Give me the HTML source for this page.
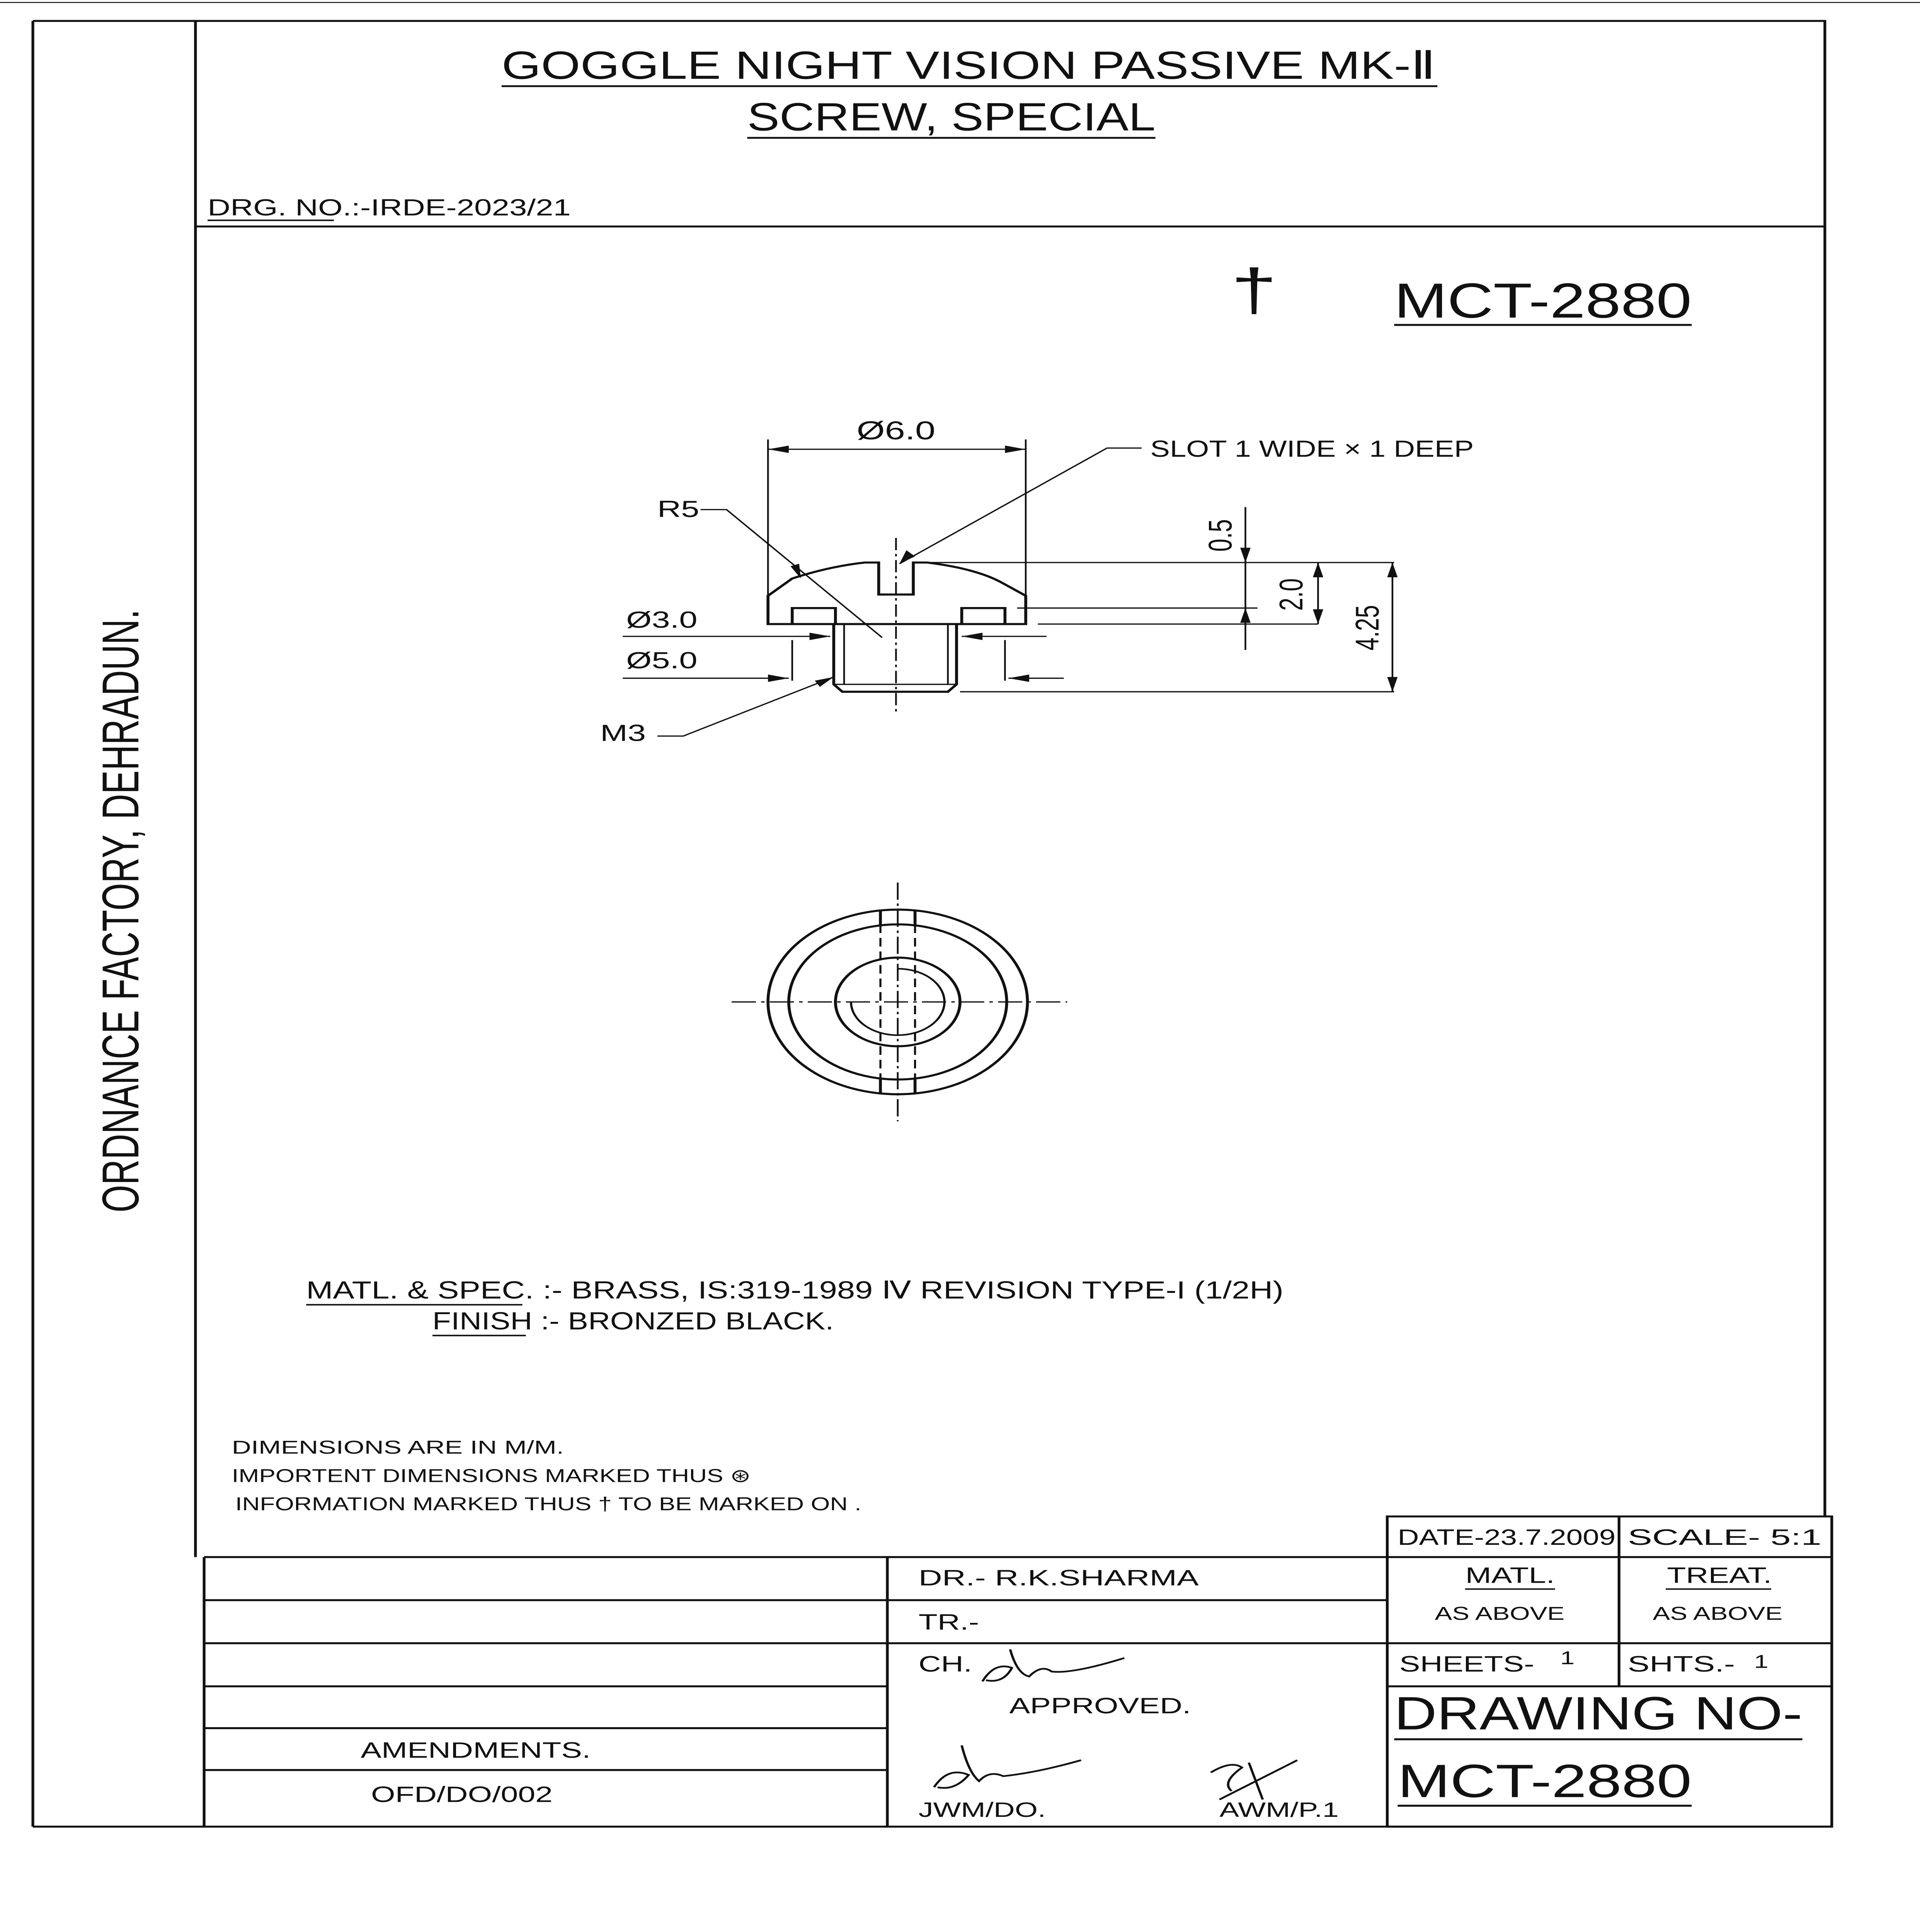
<!DOCTYPE html>
<html><head><meta charset="utf-8"><style>
html,body{margin:0;padding:0;background:#fff;width:100%;height:100%;overflow:hidden}
svg{display:block;position:fixed;left:0;top:0;width:100vw;height:100vh}
text{font-family:"Liberation Sans Narrow","Liberation Sans",sans-serif;fill:#111}
</style></head><body>
<svg viewBox="0 0 1110 1569.6" preserveAspectRatio="none" xmlns="http://www.w3.org/2000/svg">
<rect width="1110" height="1570" fill="#fff"/>
<g stroke="#111" stroke-width="1.6" fill="none">
<line x1="0" y1="2" x2="1110" y2="2" stroke-width="0.8"/>
<polyline points="19,17 1055,17 1055,1232"/>
<line x1="19" y1="17" x2="19" y2="1484"/>
<line x1="19" y1="1484" x2="1059" y2="1484"/>
<line x1="113" y1="17" x2="113" y2="1265"/>
<line x1="118" y1="1265" x2="118" y2="1484"/>
<line x1="113" y1="184" x2="1055" y2="184"/>
<rect x="802" y="1232" width="257" height="252"/>
<line x1="802" y1="1265" x2="1059" y2="1265"/>
<line x1="802" y1="1335" x2="1059" y2="1335"/>
<line x1="802" y1="1370" x2="1059" y2="1370"/>
<line x1="936" y1="1232" x2="936" y2="1370"/>
<line x1="118" y1="1265" x2="802" y2="1265"/>
<line x1="118" y1="1300" x2="802" y2="1300"/>
<line x1="118" y1="1335" x2="802" y2="1335"/>
<line x1="118" y1="1370" x2="513" y2="1370"/>
<line x1="118" y1="1404" x2="513" y2="1404"/>
<line x1="118" y1="1438" x2="513" y2="1438"/>
<line x1="513" y1="1265" x2="513" y2="1484"/>
</g>
<text x="560" y="64" font-size="32" text-anchor="middle" textLength="540" lengthAdjust="spacingAndGlyphs">GOGGLE NIGHT VISION PASSIVE MK-Ⅱ</text>
<line x1="290" y1="70" x2="831" y2="70" stroke="#111" stroke-width="1.5"/>
<text x="550" y="106" font-size="32" text-anchor="middle" textLength="236" lengthAdjust="spacingAndGlyphs">SCREW, SPECIAL</text>
<line x1="432" y1="112" x2="668" y2="112" stroke="#111" stroke-width="1.5"/>
<text x="120" y="175" font-size="19" textLength="210" lengthAdjust="spacingAndGlyphs">DRG. NO.:-IRDE-2023/21</text>
<line x1="120" y1="179" x2="193" y2="179" stroke="#111" stroke-width="1.2"/>
<text x="725" y="252" font-size="48" text-anchor="middle">†</text>
<text x="806" y="258" font-size="40" textLength="172" lengthAdjust="spacingAndGlyphs">MCT-2880</text>
<line x1="806" y1="264" x2="978" y2="264" stroke="#111" stroke-width="1.6"/>
<text transform="translate(80,740) rotate(-90)" font-size="30" text-anchor="middle" textLength="490" lengthAdjust="spacingAndGlyphs">ORDNANCE FACTORY, DEHRADUN.</text>

<g stroke="#111" stroke-width="1.7" fill="none">
<path d="M444,507 L444,484 L458,470 Q480,460 500,457 L508,457 L508,483 L528,483 L528,457 L536,457 Q565,462 580,474 L593,484 L593,507 Z"/>
<path d="M458,507 L458,494 L483,494 L483,507 M556,507 L556,494 L581,494 L581,507"/>
<path d="M482,507 L482,556 L487,562 L548,562 L553,556 L553,507"/>
<path d="M482,556 L553,556" stroke-width="1"/>
<path d="M488,507 L488,556 M548,507 L548,556" stroke-width="1"/>
</g>
<line x1="518" y1="437" x2="518" y2="578" stroke="#111" stroke-width="1" stroke-dasharray="10,3,2,3"/>
<g stroke="#111" stroke-width="1" fill="none">
<line x1="444" y1="357" x2="444" y2="484"/>
<line x1="593" y1="357" x2="593" y2="484"/>
<line x1="444" y1="365" x2="593" y2="365"/>
<polyline points="520,458 640,364 660,364"/>
<polyline points="405,414 420,414 510,518"/>
<line x1="360" y1="517" x2="480" y2="517"/>
<line x1="556" y1="517" x2="605" y2="517"/>
<line x1="360" y1="551" x2="456" y2="551"/>
<line x1="583" y1="551" x2="615" y2="551"/>
<line x1="458" y1="520" x2="458" y2="553"/>
<line x1="581" y1="520" x2="581" y2="553"/>
<polyline points="380,598 395,598 482,550"/>
<line x1="535" y1="457" x2="806" y2="457"/>
<line x1="588" y1="494" x2="727" y2="494"/>
<line x1="600" y1="507" x2="762" y2="507"/>
<line x1="555" y1="562" x2="806" y2="562"/>
<line x1="720" y1="412" x2="720" y2="528"/>
<line x1="762" y1="457" x2="762" y2="507"/>
<line x1="805" y1="457" x2="805" y2="562"/>
</g>
<g fill="#111">
<polygon points="444,365 456,362 456,368"/><polygon points="593,365 581,362 581,368"/>
<polygon points="520,458 524,447 529,452"/>
<polygon points="463,470 457,460 462,458"/>
<polygon points="480,517 468,514 468,520"/><polygon points="556,517 568,514 568,520"/>
<polygon points="456,551 444,548 444,554"/><polygon points="583,551 595,548 595,554"/>
<polygon points="482,550 471,553 474,558"/>
<polygon points="720,457 717,445 723,445"/><polygon points="720,494 717,506 723,506"/>
<polygon points="762,457 759,469 765,469"/><polygon points="762,507 759,495 765,495"/>
<polygon points="805,457 802,469 808,469"/><polygon points="805,562 802,550 808,550"/>
</g>
<text x="518" y="357" font-size="21" text-anchor="middle">Ø6.0</text>
<text x="665" y="371" font-size="19" textLength="187" lengthAdjust="spacingAndGlyphs">SLOT 1 WIDE × 1 DEEP</text>
<text x="380" y="420" font-size="19">R5</text>
<text x="362" y="510" font-size="19">Ø3.0</text>
<text x="362" y="543" font-size="19">Ø5.0</text>
<text x="347" y="602" font-size="19">M3</text>
<text transform="translate(712,435) rotate(-90)" font-size="19" text-anchor="middle">0.5</text>
<text transform="translate(753,483) rotate(-90)" font-size="19" text-anchor="middle">2.0</text>
<text transform="translate(797,510) rotate(-90)" font-size="19" text-anchor="middle">4.25</text>

<g stroke="#111" stroke-width="1.7" fill="none">
<circle cx="519" cy="814" r="75"/>
<circle cx="519" cy="814" r="63"/>
<circle cx="519" cy="814" r="36"/>
<path d="M519,787 A27,27 0 1 1 492,814" stroke-width="1.3"/>
<line x1="509" y1="740" x2="509" y2="751"/><line x1="529" y1="740" x2="529" y2="751"/>
<line x1="509" y1="877" x2="509" y2="888"/><line x1="529" y1="877" x2="529" y2="888"/>
</g>
<g stroke="#111" stroke-width="1.2" fill="none" stroke-dasharray="7,4">
<line x1="509" y1="751" x2="509" y2="877"/><line x1="529" y1="751" x2="529" y2="877"/>
</g>
<g stroke="#111" stroke-width="1" stroke-dasharray="14,3,2,3">
<line x1="423" y1="814" x2="617" y2="814"/><line x1="519" y1="717" x2="519" y2="911"/>
</g>

<text x="177" y="1055" font-size="20" textLength="565" lengthAdjust="spacingAndGlyphs">MATL. &amp; SPEC. :- BRASS, IS:319-1989 Ⅳ REVISION TYPE-I (1/2H)</text>
<line x1="177" y1="1060" x2="302" y2="1060" stroke="#111" stroke-width="1.2"/>
<text x="250" y="1080" font-size="20" textLength="232" lengthAdjust="spacingAndGlyphs">FINISH :- BRONZED BLACK.</text>
<line x1="250" y1="1085" x2="304" y2="1085" stroke="#111" stroke-width="1.2"/>
<text x="134" y="1181" font-size="15" textLength="192" lengthAdjust="spacingAndGlyphs">DIMENSIONS ARE IN M/M.</text>
<text x="134" y="1204" font-size="15" textLength="300" lengthAdjust="spacingAndGlyphs">IMPORTENT DIMENSIONS MARKED THUS ⊛</text>
<text x="136" y="1227" font-size="15" textLength="362" lengthAdjust="spacingAndGlyphs">INFORMATION MARKED THUS † TO BE MARKED ON .</text>

<text x="808" y="1255" font-size="18" textLength="126" lengthAdjust="spacingAndGlyphs">DATE-23.7.2009</text>
<text x="941" y="1255" font-size="18" textLength="112" lengthAdjust="spacingAndGlyphs">SCALE-  5:1</text>
<text x="873" y="1286" font-size="18" text-anchor="middle">MATL.</text>
<line x1="847" y1="1291" x2="899" y2="1291" stroke="#111" stroke-width="1.2"/>
<text x="994" y="1286" font-size="18" text-anchor="middle">TREAT.</text>
<line x1="963" y1="1291" x2="1024" y2="1291" stroke="#111" stroke-width="1.2"/>
<text x="867" y="1316" font-size="15" text-anchor="middle">AS ABOVE</text>
<text x="993" y="1316" font-size="15" text-anchor="middle">AS ABOVE</text>
<text x="809" y="1358" font-size="18" textLength="78" lengthAdjust="spacingAndGlyphs">SHEETS-</text>
<text x="902" y="1352" font-size="15">1</text>
<text x="941" y="1358" font-size="18" textLength="62" lengthAdjust="spacingAndGlyphs">SHTS.-</text>
<text x="1014" y="1355" font-size="15">1</text>
<text x="806" y="1405" font-size="38" textLength="236" lengthAdjust="spacingAndGlyphs">DRAWING NO-</text>
<line x1="806" y1="1413" x2="1042" y2="1413" stroke="#111" stroke-width="1.6"/>
<text x="808" y="1460" font-size="38" textLength="170" lengthAdjust="spacingAndGlyphs">MCT-2880</text>
<line x1="808" y1="1467" x2="978" y2="1467" stroke="#111" stroke-width="1.6"/>

<text x="531" y="1288" font-size="18" textLength="162" lengthAdjust="spacingAndGlyphs">DR.-  R.K.SHARMA</text>
<text x="531" y="1324" font-size="18">TR.-</text>
<text x="531" y="1358" font-size="18">CH.</text>
<text x="636" y="1392" font-size="18" text-anchor="middle">APPROVED.</text>
<text x="531" y="1476" font-size="17">JWM/DO.</text>
<text x="705" y="1476" font-size="17">AWM/P.1</text>
<text x="275" y="1428" font-size="18" text-anchor="middle">AMENDMENTS.</text>
<text x="267" y="1464" font-size="18" text-anchor="middle">OFD/DO/002</text>
<g stroke="#111" stroke-width="1.4" fill="none">
<path d="M568,1366 Q575,1350 585,1355 Q580,1368 570,1365 M584,1340 Q588,1360 595,1362 Q602,1352 608,1358 Q620,1360 650,1347"/>
<path d="M540,1452 Q548,1435 560,1442 Q552,1455 542,1452 M556,1418 Q560,1440 566,1447 Q572,1438 580,1443 Q600,1440 625,1430"/>
<path d="M700,1440 Q712,1430 718,1436 Q706,1448 712,1455 M722,1432 L730,1462 M705,1462 L750,1430"/>
</g>
</svg>
</body></html>
